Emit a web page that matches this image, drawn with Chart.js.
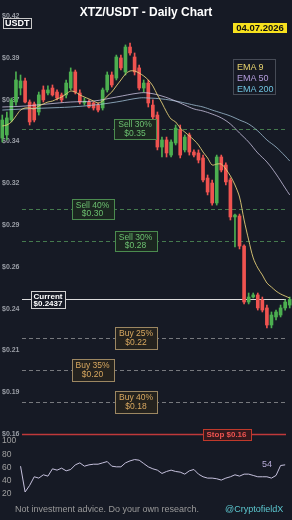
<!DOCTYPE html>
<html>
<head>
<meta charset="utf-8">
<title>XTZ/USDT - Daily Chart</title>
<script src="https://cdn.jsdelivr.net/npm/chart.js@4.4.1/dist/chart.umd.min.js"></script>
<style>
  html, body { margin: 0; padding: 0; background: #161a25; }
  body { position: relative; width: 292px; height: 520px; overflow: hidden;
         font-family: "Liberation Sans", Arial, sans-serif; }
  canvas { position: absolute; }
  #mainChart { left: -4px; top: 0; }
  #rsiChart { left: -4px; top: 433px; }
  .title { position: absolute; top: 5px; left: 0; width: 292px; text-align: center;
           color: #fff; font-weight: bold; font-size: 12px; line-height: 14px; }
  .pair { position: absolute; left: 3px; top: 18px; height: 9px; padding: 0 1px;
          border: 1px solid #c8c8c8; background: #161a25; color: #fff;
          font-weight: bold; font-size: 9px; line-height: 9px; }
  .date { position: absolute; left: 233px; top: 23px; width: 54px; height: 10px;
          background: #f7e11e; color: #111; font-weight: bold; font-size: 9.5px;
          line-height: 10px; text-align: center; }
  .legend { position: absolute; left: 233px; top: 59px; width: 43px; height: 36px;
            box-sizing: border-box; border: 1px solid #464b56; background: rgba(22,26,37,0.85);
            padding: 2px 0 0 3px; font-size: 9px; line-height: 11px; }
  .rsi-val { position: absolute; left: 262px; top: 458px; color: #b7acd8; font-size: 9px; line-height: 12px; }
  .foot { position: absolute; top: 503px; left: 15px; color: #9a9a9a; font-size: 9px; line-height: 12px; }
  .handle { position: absolute; top: 503px; left: 225px; color: #5cc8d0; font-size: 9px; line-height: 12px; }
</style>
</head>
<body>
<canvas id="mainChart" width="296" height="442"></canvas>
<canvas id="rsiChart" width="296" height="69"></canvas>
<div class="title">XTZ/USDT - Daily Chart</div>
<div class="pair">USDT</div>
<div class="date">04.07.2026</div>
<div class="legend">
  <div style="color:#e8d36e">EMA 9</div>
  <div style="color:#b39ddb">EMA 50</div>
  <div style="color:#6fc3df">EMA 200</div>
</div>
<div class="rsi-val">54</div>
<div class="foot">Not investment advice. Do your own research.</div>
<div class="handle">@CryptofieldX</div>

<script>
/* ---------- data ---------- */
const days = Array.from({ length: 64 }, (_, i) => String(i + 1));

const opens = [0.3441, 0.3460, 0.3553, 0.3665, 0.3752, 0.3796, 0.3665, 0.3653, 0.3603, 0.3740,
  0.3721, 0.3752, 0.3727, 0.3709, 0.3709, 0.3752, 0.3852, 0.3721, 0.3659, 0.3665,
  0.3659, 0.3646, 0.3628, 0.3740, 0.3833, 0.3814, 0.3939, 0.3852, 0.4007, 0.3945,
  0.3877, 0.3752, 0.3783, 0.3646, 0.3584, 0.3385, 0.3429, 0.3335, 0.3410, 0.3491,
  0.3367, 0.3460, 0.3354, 0.3348, 0.3317, 0.3192, 0.3161, 0.3037, 0.3323, 0.3273,
  0.3180, 0.2950, 0.2956, 0.2769, 0.2421, 0.2452, 0.2465, 0.2434, 0.2384, 0.2278,
  0.2328, 0.2340, 0.2384, 0.2402];
const highs = [0.3584, 0.3603, 0.3690, 0.3852, 0.3833, 0.3814, 0.3678, 0.3665, 0.3727, 0.3765,
  0.3765, 0.3771, 0.3740, 0.3721, 0.3802, 0.3877, 0.3864, 0.3740, 0.3690, 0.3678,
  0.3665, 0.3659, 0.3752, 0.3852, 0.3852, 0.3957, 0.3957, 0.4020, 0.4032, 0.3970,
  0.3895, 0.3802, 0.3802, 0.3678, 0.3603, 0.3447, 0.3447, 0.3429, 0.3522, 0.3522,
  0.3460, 0.3472, 0.3367, 0.3367, 0.3335, 0.3211, 0.3180, 0.3335, 0.3335, 0.3286,
  0.3192, 0.2968, 0.2968, 0.2776, 0.2477, 0.2477, 0.2477, 0.2452, 0.2402, 0.2359,
  0.2371, 0.2402, 0.2434, 0.2452];
const lows = [0.3416, 0.3429, 0.3541, 0.3646, 0.3709, 0.3659, 0.3522, 0.3541, 0.3584, 0.3665,
  0.3709, 0.3702, 0.3678, 0.3665, 0.3690, 0.3740, 0.3715, 0.3653, 0.3646, 0.3628,
  0.3615, 0.3603, 0.3615, 0.3727, 0.3758, 0.3802, 0.3864, 0.3833, 0.3957, 0.3833,
  0.3740, 0.3727, 0.3634, 0.3553, 0.3367, 0.3323, 0.3323, 0.3323, 0.3398, 0.3317,
  0.3354, 0.3335, 0.3323, 0.3286, 0.3168, 0.3087, 0.3024, 0.3024, 0.3230, 0.3149,
  0.2931, 0.2763, 0.2751, 0.2409, 0.2409, 0.2446, 0.2371, 0.2359, 0.2260, 0.2260,
  0.2309, 0.2328, 0.2371, 0.2384];
const closes = [0.3553, 0.3566, 0.3678, 0.3802, 0.3796, 0.3665, 0.3541, 0.3553, 0.3709, 0.3678,
  0.3740, 0.3709, 0.3690, 0.3678, 0.3783, 0.3852, 0.3727, 0.3665, 0.3671, 0.3634,
  0.3628, 0.3615, 0.3740, 0.3833, 0.3771, 0.3945, 0.3877, 0.4007, 0.3970, 0.3852,
  0.3752, 0.3783, 0.3659, 0.3572, 0.3385, 0.3429, 0.3348, 0.3416, 0.3503, 0.3335,
  0.3447, 0.3354, 0.3335, 0.3304, 0.3180, 0.3105, 0.3037, 0.3323, 0.3242, 0.3168,
  0.2950, 0.2962, 0.2769, 0.2421, 0.2452, 0.2465, 0.2384, 0.2371, 0.2278, 0.2340,
  0.2359, 0.2384, 0.2421, 0.2437];

// EMA values
const ema9 = [0.3516, 0.3522, 0.3541, 0.3578, 0.3615, 0.3628, 0.3628, 0.3622, 0.3640, 0.3653,
  0.3665, 0.3671, 0.3684, 0.3696, 0.3715, 0.3733, 0.3727, 0.3709, 0.3696, 0.3684,
  0.3671, 0.3659, 0.3671, 0.3702, 0.3727, 0.3765, 0.3802, 0.3839, 0.3858, 0.3858,
  0.3845, 0.3827, 0.3802, 0.3765, 0.3709, 0.3659, 0.3603, 0.3559, 0.3541, 0.3503,
  0.3478, 0.3454, 0.3429, 0.3398, 0.3354, 0.3317, 0.3273, 0.3279, 0.3279, 0.3248,
  0.3205, 0.3149, 0.3074, 0.2931, 0.2807, 0.2695, 0.2633, 0.2589, 0.2539, 0.2514,
  0.2489, 0.2471, 0.2458, 0.2446];
const emaDays = ["1", "6", "11", "16", "21", "26", "31", "33", "36", "39", "41", "43",
  "45", "47", "49", "51", "53", "55", "57", "59", "61", "63", "64"];
const ema50 = [0.3634, 0.3640, 0.3653, 0.3665, 0.3671, 0.3696, 0.3721, 0.3721, 0.3702, 0.3671,
  0.3646, 0.3622, 0.3609, 0.3590, 0.3566, 0.3528, 0.3472, 0.3416, 0.3348, 0.3292,
  0.3217, 0.3130, 0.3087];
const ema200 = [0.3615, 0.3622, 0.3628, 0.3634, 0.3646, 0.3665, 0.3690, 0.3690, 0.3684, 0.3671,
  0.3659, 0.3646, 0.3634, 0.3615, 0.3597, 0.3578, 0.3553, 0.3528, 0.3485, 0.3429,
  0.3385, 0.3329, 0.3298];

const rsi = [null, null, null, null, 62, 23, 33, 46, 44, 49,
  47, 58, 56, 59, 55, 57, 64, 67, 62, 64,
  65, 65, 67, 69, 62, 61, 61, 67, 70, 72,
  71, 66, 61, 58, 56, 51, 54, 56, 54, 53,
  50, 55, 57, 50, 46, 44, 44, 43, 41, 44,
  46, 49, 47, 50, 50, 48, 46, 46, 46, 44,
  48, 63, 64, null];

const priceTicks = [0.16, 0.186, 0.212, 0.238, 0.264, 0.29, 0.316, 0.342, 0.368, 0.394, 0.42];
const rsiTicks = [20, 40, 60, 80, 100];

const levelPrices = [0.35, 0.30, 0.28, 0.2437, 0.22, 0.20, 0.18, 0.16];
const levelNames = ["Sell 30%", "Sell 40%", "Sell 30%", "Current", "Buy 25%", "Buy 35%", "Buy 40%", "Stop"];
const levelKinds = ["sell", "sell", "sell", "current", "buy", "buy", "buy", "stop"];

/* ---------- styles ---------- */
const UP = "#4caf50";
const DOWN = "#ef5350";
const labelCenters = [135, 92.5, 135.5, 48, 136, 92.5, 136, 226.5]; // px from left of plot
const levelStyle = {
  sell: { line: "rgba(102,187,106,0.6)", dash: [4, 3], width: 1, text: "#6cc070", border: "#4b8b4f", bg: "#1b2620", font: "8.5px", lineH: 8.5 },
  buy: { line: "rgba(200,200,200,0.55)", dash: [4, 3], width: 1, text: "#d8a860", border: "#9c8762", bg: "#24221e", font: "8.5px", lineH: 9.5 },
  current: { line: "#dcdcdc", dash: [], width: 1, text: "#ffffff", border: "#d0d0d0", bg: "#161a25", font: "bold 8px", lineH: 7 },
  stop: { line: "#c0393b", dash: [], width: 1.6, text: "#ef5350", border: "#c0392b", bg: "#35191d", font: "bold 8px", lineH: 8 }
};

Chart.defaults.font.family = '"Liberation Sans", Arial, sans-serif';
Chart.defaults.animation = false;

const candleColors = opens.map((o, i) => (closes[i] >= o ? UP : DOWN));

const levelsPlugin = {
  id: "levels",
  beforeDatasetsDraw(chart) {
    const { ctx, chartArea, scales: { y } } = chart;
    levelPrices.forEach((p, i) => {
      const st = levelStyle[levelKinds[i]];
      const py = Math.round(y.getPixelForValue(p)) + 0.5;
      ctx.save();
      ctx.strokeStyle = st.line;
      ctx.lineWidth = st.width;
      ctx.setLineDash(st.dash);
      ctx.beginPath();
      ctx.moveTo(chartArea.left + 22, py);
      ctx.lineTo(chartArea.right - 6, py);
      ctx.stroke();
      ctx.restore();
    });
  },
  afterDatasetsDraw(chart) {
    const { ctx, chartArea, scales: { y } } = chart;
    levelPrices.forEach((p, i) => {
      const kind = levelKinds[i];
      const st = levelStyle[kind];
      let lines;
      if (kind === "stop") lines = [levelNames[i] + " $" + p.toFixed(2)];
      else if (kind === "current") lines = [levelNames[i], "$" + p.toFixed(4)];
      else lines = [levelNames[i], "$" + p.toFixed(2)];

      ctx.save();
      ctx.font = st.font + ' "Liberation Sans", Arial, sans-serif';
      const tw = Math.max(...lines.map(t => ctx.measureText(t).width));
      const padX = kind === "current" ? 2.5 : 4;
      const w = Math.round(tw + padX * 2);
      const h = Math.round(lines.length * st.lineH + 3);
      const cx = chartArea.left + labelCenters[i];
      const cy = y.getPixelForValue(p);
      const bx = Math.round(cx - w / 2) + 0.5;
      const by = Math.round(cy - h / 2) + 0.5;
      ctx.fillStyle = st.bg;
      ctx.fillRect(bx, by, w, h);
      ctx.strokeStyle = st.border;
      ctx.lineWidth = 1;
      ctx.strokeRect(bx, by, w, h);
      ctx.fillStyle = st.text;
      ctx.textAlign = "center";
      ctx.textBaseline = "middle";
      lines.forEach((t, k) => {
        const ty = cy + (k - (lines.length - 1) / 2) * st.lineH;
        ctx.fillText(t, cx, ty + 0.5);
      });
      ctx.restore();
    });
  }
};

/* ---------- price chart ---------- */
new Chart(document.getElementById("mainChart"), {
  type: "bar",
  data: {
    labels: days,
    datasets: [
      {
        type: "line",
        label: "EMA 9",
        data: ema9,
        borderColor: "rgba(226,205,120,0.9)",
        borderWidth: 1,
        pointRadius: 0,
        tension: 0.3,
        order: 0
      },
      {
        type: "line",
        label: "EMA 50",
        data: emaDays.map((d, i) => ({ x: d, y: ema50[i] })),
        borderColor: "rgba(214,206,236,0.75)",
        borderWidth: 1,
        pointRadius: 0,
        tension: 0.4,
        order: 0
      },
      {
        type: "line",
        label: "EMA 200",
        data: emaDays.map((d, i) => ({ x: d, y: ema200[i] })),
        borderColor: "rgba(168,200,222,0.75)",
        borderWidth: 1,
        pointRadius: 0,
        tension: 0.4,
        order: 0
      },
      {
        label: "body",
        data: opens.map((o, i) => [o, closes[i]]),
        backgroundColor: candleColors,
        barThickness: 3,
        minBarLength: 1,
        grouped: false,
        order: 1
      },
      {
        label: "wick",
        data: lows.map((l, i) => [l, highs[i]]),
        backgroundColor: candleColors,
        barThickness: 1,
        grouped: false,
        order: 2
      }
    ]
  },
  options: {
    responsive: false,
    layout: { padding: { top: 16, bottom: 8, left: 0, right: 0 } },
    plugins: { legend: { display: false }, tooltip: { enabled: false } },
    scales: {
      x: { display: false },
      y: {
        min: 0.16,
        max: 0.42,
        afterBuildTicks: s => { s.ticks = priceTicks.map(v => ({ value: v })); },
        grid: { display: false, drawTicks: false },
        border: { display: false },
        ticks: {
          mirror: true,
          padding: 2,
          color: "#9a9ea6",
          font: { size: 7, weight: "bold" },
          callback: v => "$" + v.toFixed(2)
        }
      }
    }
  },
  plugins: [levelsPlugin]
});

/* ---------- RSI panel ---------- */
new Chart(document.getElementById("rsiChart"), {
  type: "line",
  data: {
    labels: days,
    datasets: [{
      label: "RSI",
      data: rsi,
      borderColor: "#c5c0dc",
      borderWidth: 1,
      pointRadius: 0,
      tension: 0
    }]
  },
  options: {
    responsive: false,
    layout: { padding: { top: 8, bottom: 8, left: 0, right: 0 } },
    plugins: { legend: { display: false }, tooltip: { enabled: false } },
    scales: {
      x: { display: false, offset: true },
      y: {
        min: 20,
        max: 100,
        afterBuildTicks: s => { s.ticks = rsiTicks.map(v => ({ value: v })); },
        grid: { display: false, drawTicks: false },
        border: { display: false },
        ticks: { mirror: true, padding: 2, color: "#a0a0a0", font: { size: 8.5 } }
      }
    }
  }
});
</script>
</body>
</html>
